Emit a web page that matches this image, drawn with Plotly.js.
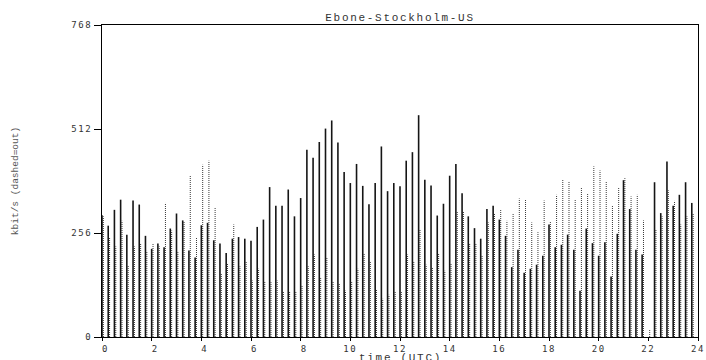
<!DOCTYPE html>
<html>
<head>
<meta charset="utf-8">
<script src="https://cdn.plot.ly/plotly-3.0.1.min.js"></script>
<style>
  html, body { margin: 0; padding: 0; background: #fff; }
  #chart { width: 706px; height: 360px; }
  .xtick text, .ytick text { letter-spacing: 1.6px; }
  .gtitle, .annotation-text { letter-spacing: 1.7px; }
</style>
</head>
<body>
<div id="chart"></div>
<script>
// 15-minute samples, 0:00 .. 23:45 UTC (kbit/s)
const slotHours = 0.25;
const inRate = [
  300, 274, 313, 338, 252, 336, 326, 249, 217, 230, 221, 267, 304, 287, 213, 196,
  275, 281, 238, 230, 207, 242, 246, 242, 237, 271, 289, 369, 323, 323, 363, 297,
  342, 461, 441, 480, 513, 533, 479, 406, 379, 426, 372, 327, 379, 469, 359, 379,
  371, 434, 455, 546, 387, 373, 299, 328, 397, 426, 354, 297, 268, 242, 315, 323,
  289, 249, 172, 215, 158, 168, 178, 200, 277, 221, 227, 252, 215, 114, 267, 231,
  200, 233, 149, 254, 386, 315, 215, 203, 0, 381, 305, 432, 323, 350, 381, 330
];
const outRate = [
  297, 244, 223, 286, 176, 223, 231, 212, 231, 223, 330, 262, 209, 285, 397, 245,
  424, 434, 319, 155, 182, 277, 174, 185, 139, 168, 137, 135, 139, 112, 112, 112,
  126, 174, 203, 145, 196, 137, 133, 114, 137, 168, 205, 186, 117, 94, 104, 111,
  112, 203, 185, 264, 178, 170, 205, 163, 182, 308, 308, 231, 231, 200, 282, 305,
  313, 286, 305, 341, 338, 282, 258, 336, 285, 350, 387, 383, 338, 369, 354, 420,
  410, 383, 323, 369, 391, 346, 350, 287, 18, 264, 297, 361, 335, 277, 297, 305
];
const xTickVals = [0, 2, 4, 6, 8, 10, 12, 14, 16, 18, 20, 22, 24];
const xTickText = ['\u00a00', '\u00a02', '\u00a04', '\u00a06', '\u00a08', '10', '12', '14', '16', '18', '20', '22', '24'];
const yTickVals = [0, 256, 512, 768];
const yTickText = ['0', '256', '512', '768'];
const xTitle = 'time (UTC)';

function spikes(values, shift) {
  const xs = [], ys = [];
  values.forEach((v, i) => {
    const t = i * slotHours + shift;
    xs.push(t, t, null);
    ys.push(0, v, null);
  });
  return { x: xs, y: ys };
}

const inS = spikes(inRate, 0);
const outS = spikes(outRate, 0.055);

const traces = [
  { x: outS.x, y: outS.y, type: 'scatter', mode: 'lines', name: 'out',
    line: { color: '#3a3a3a', width: 1, dash: '1px,1px' }, hoverinfo: 'skip' },
  { x: inS.x, y: inS.y, type: 'scatter', mode: 'lines', name: 'in',
    line: { color: '#151515', width: 1.6 }, hoverinfo: 'skip' }
];

const layout = {
  width: 706, height: 360,
  margin: { l: 102, r: 8, t: 25, b: 23 },
  paper_bgcolor: '#fff', plot_bgcolor: '#fff',
  showlegend: false,
  title: { text: 'Ebone-Stockholm-US', xref: 'paper', x: 0.5, xanchor: 'center',
           yref: 'container', y: 0.953, yanchor: 'middle',
           font: { family: 'Liberation Mono', size: 11, color: '#333' } },
  xaxis: {
    range: [0, 24], tickmode: 'array', tickvals: xTickVals, ticktext: xTickText,
    ticks: 'outside', ticklen: 3, tickwidth: 1, tickcolor: '#000',
    showline: true, linecolor: '#000', linewidth: 1, mirror: true,
    showgrid: false, zeroline: false,
    tickfont: { family: 'DejaVu Sans Mono', size: 9, color: '#333' }
  },
  yaxis: {
    range: [0, 768], tickmode: 'array', tickvals: yTickVals, ticktext: yTickText,
    ticks: 'outside', ticklen: 7, tickwidth: 1, tickcolor: '#000',
    showline: true, linecolor: '#000', linewidth: 1, mirror: true,
    showgrid: false, zeroline: false,
    tickfont: { family: 'DejaVu Sans Mono', size: 9, color: '#333' },
    title: { text: 'kbit/s (dashed=out)', standoff: 50,
             font: { family: 'Liberation Mono', size: 9.5, color: '#555' } }
  },
  annotations: [{
    text: xTitle, xref: 'paper', yref: 'paper', x: 0.5, y: 0,
    xanchor: 'center', yanchor: 'top', yshift: -13, showarrow: false,
    font: { family: 'Liberation Mono', size: 11, color: '#333' }
  }]
};

Plotly.newPlot('chart', traces, layout, { staticPlot: true, displayModeBar: false });
</script>
</body>
</html>
